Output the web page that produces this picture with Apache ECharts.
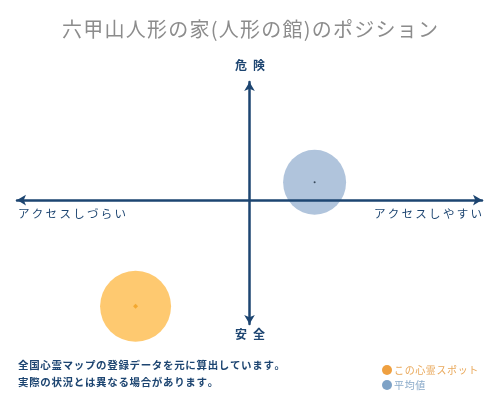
<!DOCTYPE html>
<html>
<head>
<meta charset="utf-8">
<script src="https://cdn.jsdelivr.net/npm/echarts@6/dist/echarts.min.js"></script>
<style>
html,body{margin:0;padding:0;background:#fff;}
#chart{width:500px;height:400px;}
</style>
</head>
<body>
<div id="chart"></div>
<script>
// ポジションのデータ（x: アクセス, y: 危険度）
var spotName = "この心霊スポット";
var avgName = "平均値";
var spotPoint = [[-49, -90]];
var avgPoint = [[28, 15]];
var axisNames = ["アクセスしづらい", "アクセスしやすい", "危険", "安全"];
var notes = ["全国心霊マップの登録データを元に算出しています。", "実際の状況とは異なる場合があります。"];

var font = '"Noto Sans CJK JP", sans-serif';
var navy = '#1d4571';

// 字間をあける
function spaced(s, sp) {
    return s.split('').join(sp);
}

var myChart = echarts.init(document.getElementById('chart'));

option = {
    backgroundColor: '#fff',
    animation: false,
    title: {
        text: spaced('六甲山人形の家(人形の館)のポジション', '\u200A'),
        left: 'center',
        top: 14,
        textStyle: {
            color: '#8c8c8c',
            fontSize: 20,
            fontWeight: 'normal',
            fontFamily: font
        }
    },
    grid: {
        left: 17,
        right: 18,
        top: 82,
        bottom: 76
    },
    xAxis: {
        type: 'value',
        min: -100,
        max: 100,
        z: 5,
        axisLine: {
            onZero: true,
            symbol: ['arrow', 'arrow'],
            symbolSize: [8, 9],
            lineStyle: {color: navy, width: 2.5}
        },
        axisTick: {show: false},
        axisLabel: {show: false},
        splitLine: {show: false}
    },
    yAxis: {
        type: 'value',
        min: -105,
        max: 100,
        z: 5,
        axisLine: {
            onZero: true,
            symbol: ['arrow', 'arrow'],
            symbolSize: [8, 9],
            lineStyle: {color: navy, width: 2.5}
        },
        axisTick: {show: false},
        axisLabel: {show: false},
        splitLine: {show: false}
    },
    legend: {
        orient: 'vertical',
        left: 377,
        top: 360,
        itemWidth: 10,
        itemHeight: 10,
        itemGap: 5,
        icon: 'circle',
        selectedMode: false,
        formatter: function (name) {
            return spaced(name, '\u200A');
        },
        data: [
            {name: spotName, itemStyle: {color: '#efa040'}, textStyle: {color: '#e9a85a'}},
            {name: avgName, itemStyle: {color: '#7ea2c6'}, textStyle: {color: '#8aaac9'}}
        ],
        textStyle: {fontSize: 10, fontFamily: font, padding: [0, 0, 0, -3]}
    },
    graphic: [
        {type: 'text', left: 'center', top: 59, style: {text: spaced(axisNames[2], '\u2002'), fill: navy, font: 'bold 12px ' + font}},
        {type: 'text', left: 'center', top: 328, style: {text: spaced(axisNames[3], '\u2002'), fill: navy, font: 'bold 12px ' + font}},
        {type: 'text', left: 18, top: 208, style: {text: spaced(axisNames[0], '\u2009'), fill: navy, font: '11.5px ' + font}},
        {type: 'text', right: 18, top: 208, style: {text: spaced(axisNames[1], '\u2009'), fill: navy, font: '11.5px ' + font}},
        {type: 'text', left: 18, top: 360, style: {text: spaced(notes[0], '\u200A'), fill: navy, font: 'bold 10.5px ' + font}},
        {type: 'text', left: 18, top: 377, style: {text: spaced(notes[1], '\u200A'), fill: navy, font: 'bold 10.5px ' + font}}
    ],
    series: [
        {
            name: avgName,
            type: 'scatter',
            data: avgPoint,
            symbolSize: [63, 65],
            itemStyle: {color: '#b0c4dc', opacity: 1}
        },
        {
            name: spotName,
            type: 'scatter',
            data: spotPoint,
            symbolSize: 71,
            itemStyle: {color: '#fec970', opacity: 1}
        },
        {
            name: 'avgCenter',
            type: 'scatter',
            data: avgPoint,
            symbolSize: 2,
            z: 6,
            itemStyle: {color: '#1a2a3a'}
        },
        {
            name: 'spotCenter',
            type: 'scatter',
            data: spotPoint,
            symbol: 'diamond',
            symbolSize: 5,
            z: 6,
            itemStyle: {color: '#f0a020'}
        }
    ]
};
myChart.setOption(option);
</script>
</body>
</html>
